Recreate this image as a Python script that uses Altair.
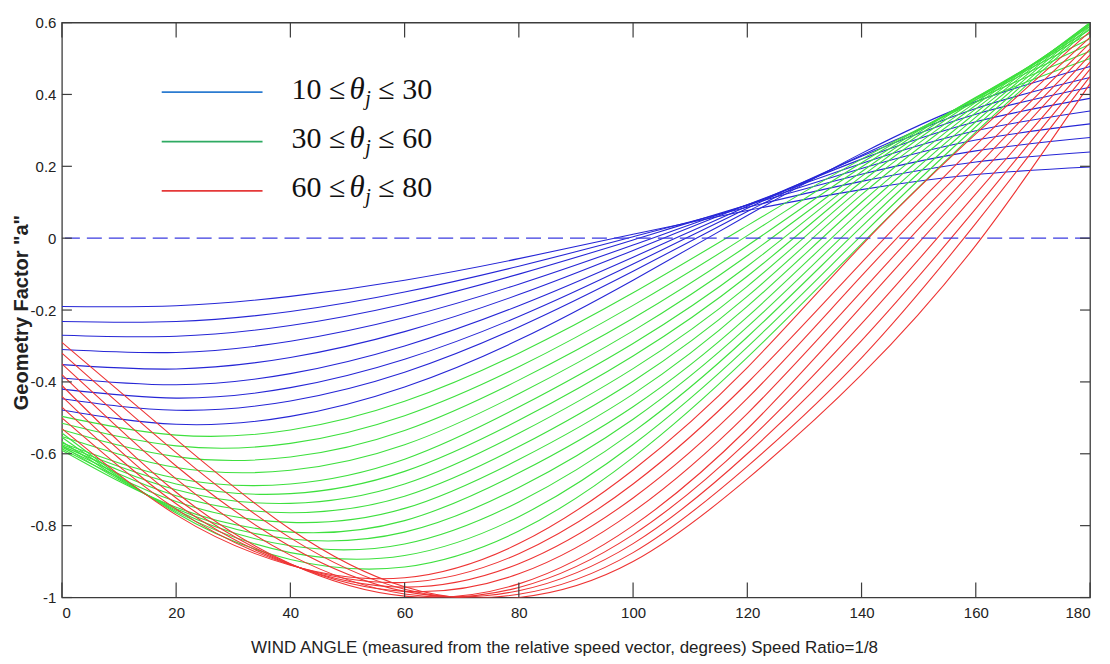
import altair as alt
import pandas as pd

# ---------------- data ----------------
ANGLES = [0, 20, 40, 60, 80, 100, 120, 140, 160, 180]

BLUE_THETA = [10, 12.5, 15, 17.5, 20, 22.5, 25, 27.5, 30]
BLUE = [
    [-0.190, -0.188, -0.162, -0.117, -0.057, 0.011, 0.077, 0.135, 0.177, 0.198],
    [-0.232, -0.232, -0.204, -0.150, -0.078, 0.004, 0.086, 0.158, 0.212, 0.240],
    [-0.270, -0.273, -0.243, -0.183, -0.100, -0.005, 0.092, 0.178, 0.243, 0.280],
    [-0.310, -0.318, -0.287, -0.221, -0.128, -0.019, 0.093, 0.194, 0.273, 0.318],
    [-0.352, -0.364, -0.332, -0.260, -0.157, -0.034, 0.093, 0.208, 0.299, 0.354],
    [-0.389, -0.408, -0.377, -0.300, -0.188, -0.053, 0.089, 0.220, 0.324, 0.389],
    [-0.420, -0.445, -0.416, -0.337, -0.218, -0.072, 0.083, 0.228, 0.345, 0.420],
    [-0.447, -0.479, -0.453, -0.373, -0.247, -0.092, 0.074, 0.231, 0.361, 0.447],
    [-0.478, -0.518, -0.496, -0.414, -0.283, -0.117, 0.063, 0.236, 0.380, 0.478],
]

GREEN_THETA = [32, 34, 36, 38, 40, 42, 44, 46, 48, 50, 52, 54, 56, 58]
GREEN = [
    [-0.496, -0.548, -0.534, -0.454, -0.320, -0.152, 0.035, 0.220, 0.378, 0.500],
    [-0.515, -0.578, -0.571, -0.494, -0.358, -0.187, 0.007, 0.210, 0.385, 0.520],
    [-0.533, -0.608, -0.609, -0.535, -0.395, -0.223, -0.021, 0.198, 0.390, 0.540],
    [-0.552, -0.638, -0.646, -0.575, -0.433, -0.258, -0.049, 0.185, 0.392, 0.555],
    [-0.570, -0.668, -0.684, -0.615, -0.470, -0.293, -0.078, 0.172, 0.390, 0.570],
    [-0.574, -0.684, -0.711, -0.649, -0.507, -0.328, -0.106, 0.157, 0.385, 0.580],
    [-0.578, -0.700, -0.738, -0.684, -0.543, -0.363, -0.134, 0.140, 0.378, 0.590],
    [-0.582, -0.717, -0.764, -0.718, -0.580, -0.398, -0.162, 0.121, 0.370, 0.595],
    [-0.586, -0.733, -0.791, -0.752, -0.616, -0.434, -0.190, 0.100, 0.360, 0.600],
    [-0.590, -0.749, -0.818, -0.786, -0.653, -0.469, -0.219, 0.078, 0.349, 0.600],
    [-0.578, -0.753, -0.837, -0.818, -0.694, -0.504, -0.247, 0.055, 0.337, 0.598],
    [-0.566, -0.757, -0.856, -0.851, -0.734, -0.539, -0.275, 0.032, 0.324, 0.595],
    [-0.554, -0.761, -0.875, -0.883, -0.775, -0.574, -0.303, 0.008, 0.310, 0.590],
    [-0.542, -0.765, -0.894, -0.915, -0.815, -0.610, -0.332, -0.016, 0.295, 0.585],
]

RED_THETA = [60, 62.5, 65, 67.5, 70, 72.5, 75, 77.5, 80]
RED = [
    [-0.530, -0.770, -0.910, -0.945, -0.850, -0.645, -0.360, -0.020, 0.290, 0.575],
    [-0.500, -0.754, -0.909, -0.958, -0.878, -0.684, -0.403, -0.068, 0.259, 0.559],
    [-0.470, -0.739, -0.908, -0.971, -0.906, -0.723, -0.446, -0.105, 0.227, 0.543],
    [-0.440, -0.723, -0.907, -0.983, -0.934, -0.761, -0.488, -0.148, 0.196, 0.526],
    [-0.410, -0.707, -0.906, -0.996, -0.962, -0.800, -0.531, -0.190, 0.164, 0.510],
    [-0.380, -0.670, -0.882, -0.990, -0.972, -0.825, -0.566, -0.238, 0.123, 0.490],
    [-0.350, -0.634, -0.858, -0.983, -0.981, -0.850, -0.600, -0.285, 0.082, 0.470],
    [-0.320, -0.597, -0.834, -0.977, -0.991, -0.875, -0.635, -0.333, 0.041, 0.450],
    [-0.290, -0.560, -0.810, -0.970, -1.000, -0.900, -0.670, -0.380, -0.020, 0.430],
]

X_TICKS = [0, 20, 40, 60, 80, 100, 120, 140, 160, 180]
Y_TICKS = [-1, -0.8, -0.6, -0.4, -0.2, 0, 0.2, 0.4, 0.6]
LEGEND_LO = ["10", "30", "60"]
LEGEND_HI = ["30", "60", "80"]
GROUPS = ["blue", "green", "red"]

X_TITLE = "WIND ANGLE (measured from the relative speed vector, degrees) Speed Ratio=1/8"
Y_TITLE = 'Geometry Factor "a"'

# ---------------- styling ----------------
W, H = 1030, 576
SANS = "Liberation Sans, Arial, Helvetica, sans-serif"
SERIF = "Liberation Serif, Times New Roman, serif"
LINE_COLORS = {"blue": "#2626d6", "green": "#3ee03e", "red": "#ee3434"}
LEGEND_COLORS = ["#2b7bd0", "#2eaa62", "#e53838"]
AXIS_COLOR = "#3c3c3c"
TEXT_COLOR = "#222222"

rows = []
for group, thetas, table in (("blue", BLUE_THETA, BLUE),
                             ("green", GREEN_THETA, GREEN),
                             ("red", RED_THETA, RED)):
    for th, vals in zip(thetas, table):
        for ang, v in zip(ANGLES, vals):
            rows.append({"group": group, "theta": th, "angle": ang, "a": v})
df = pd.DataFrame(rows)

xs = alt.Scale(domain=[0, 180], nice=False, zero=False)
ys = alt.Scale(domain=[-1, 0.6], nice=False, zero=False)

x_axis = alt.Axis(values=X_TICKS, labelExpr="'' + datum.value", ticks=False,
                  domain=False, grid=False, labelFont=SANS, labelFontSize=15,
                  labelColor=TEXT_COLOR, labelPadding=8, title=X_TITLE,
                  titleFont=SANS, titleFontSize=17, titleFontWeight="normal",
                  titleColor=TEXT_COLOR, titleX=W / 2 - 12, titleY=50,
                  titleBaseline="middle", titleAnchor="middle")
y_axis = alt.Axis(values=Y_TICKS, labelExpr="'' + datum.value", ticks=False,
                  domain=False, grid=False, labelFont=SANS, labelFontSize=15,
                  labelColor=TEXT_COLOR, labelPadding=6, title=Y_TITLE,
                  titleFont=SANS, titleFontSize=20, titleFontWeight="bold",
                  titleColor=TEXT_COLOR, titleX=-40, titleY=H / 2 + 2,
                  titleBaseline="middle", titleAnchor="middle", titleAngle=-90)

X = lambda: alt.X("angle:Q", scale=xs, axis=x_axis)
Y = lambda: alt.Y("a:Q", scale=ys, axis=y_axis)

layers = []
for group in GROUPS:
    sub = df[df.group == group]
    layers.append(
        alt.Chart(sub).mark_line(color=LINE_COLORS[group], strokeWidth=1.1,
                                 interpolate="natural", clip=True)
        .encode(x=X(), y=Y(), detail="theta:N")
    )

zero_line = alt.Chart(pd.DataFrame({"a": [0]})).mark_rule(
    color="#3b3be0", strokeWidth=1.4, strokeDash=[15, 7]
).encode(y=Y())

xt = pd.DataFrame({"angle": X_TICKS})
yt = pd.DataFrame({"a": Y_TICKS})
tick_style = dict(color=AXIS_COLOR, strokeWidth=1.2)
x_ticks_bottom = alt.Chart(xt).mark_rule(**tick_style).encode(
    x=X(), y=alt.value(H), y2=alt.value(H - 15))
x_ticks_top = alt.Chart(xt).mark_rule(**tick_style).encode(
    x=X(), y=alt.value(0), y2=alt.value(15))
y_ticks_left = alt.Chart(yt).mark_rule(**tick_style).encode(
    y=Y(), x=alt.value(0), x2=alt.value(10))
y_ticks_right = alt.Chart(yt).mark_rule(**tick_style).encode(
    y=Y(), x=alt.value(W), x2=alt.value(W - 10))

# legend (layout positions in plot pixels)
legend_layers = []
one = pd.DataFrame({"k": [0]})
for i, (lo, hi, col) in enumerate(zip(LEGEND_LO, LEGEND_HI, LEGEND_COLORS)):
    ly = 69.7 + i * 49.5
    by = ly + 6.5
    legend_layers.append(alt.Chart(one).mark_rule(strokeWidth=1.8, color=col).encode(
        y=alt.value(ly), x=alt.value(100), x2=alt.value(201)))
    legend_layers.append(alt.Chart(one).mark_text(
        align="left", baseline="alphabetic", font=SERIF, fontSize=30,
        color="#111111", text=f"{lo} \u2264").encode(x=alt.value(230), y=alt.value(by)))
    legend_layers.append(alt.Chart(one).mark_text(
        align="left", baseline="alphabetic", font=SERIF, fontSize=31,
        fontStyle="italic", color="#111111", text="\u03b8").encode(
        x=alt.value(288), y=alt.value(by)))
    legend_layers.append(alt.Chart(one).mark_text(
        align="left", baseline="alphabetic", font=SERIF, fontSize=20,
        fontStyle="italic", color="#111111", text="j").encode(
        x=alt.value(304), y=alt.value(by + 6)))
    legend_layers.append(alt.Chart(one).mark_text(
        align="left", baseline="alphabetic", font=SERIF, fontSize=30,
        color="#111111", text=f"\u2264 {hi}").encode(x=alt.value(317), y=alt.value(by)))

chart = alt.layer(
    *layers, zero_line, x_ticks_bottom, x_ticks_top, y_ticks_left, y_ticks_right,
    *legend_layers
).properties(
    width=W, height=H,
    padding={"left": 54, "top": 14, "right": 12, "bottom": 62},
    autosize=alt.AutoSizeParams(type="none"),
    background="white",
).configure_view(stroke=AXIS_COLOR, strokeWidth=1.3)

chart.save("out.html", embed_options={"renderer": "svg", "actions": False})
